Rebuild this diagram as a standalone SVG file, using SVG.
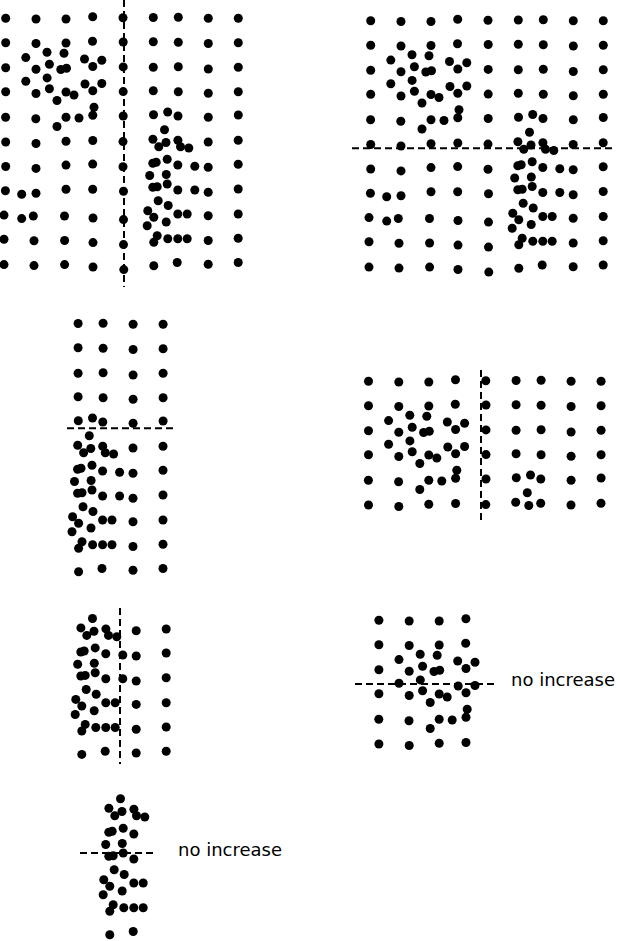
<svg xmlns="http://www.w3.org/2000/svg" xmlns:xlink="http://www.w3.org/1999/xlink" width="620" height="941" viewBox="0 0 620 941">
<style>
circle{fill:#000}
.split{stroke:#000;stroke-width:2;stroke-dasharray:7 4;fill:none}
.lbl{font-family:"DejaVu Sans","Liberation Sans",sans-serif;font-size:18px;fill:#000}
</style>
<defs>
<g id="P1">
<circle cx="5.7" cy="18.3" r="4.5"/><circle cx="36" cy="19" r="4.5"/><circle cx="66" cy="19" r="4.5"/><circle cx="92.7" cy="16.7" r="4.5"/>
<circle cx="5.7" cy="42.7" r="4.5"/><circle cx="36" cy="43.5" r="4.5"/><circle cx="66" cy="43" r="4.5"/><circle cx="92.5" cy="41.2" r="4.5"/>
<circle cx="5.7" cy="67.7" r="4.5"/><circle cx="36" cy="69.3" r="4.5"/><circle cx="66.5" cy="68.3" r="4.5"/><circle cx="92.8" cy="66.5" r="4.5"/>
<circle cx="5.7" cy="91.7" r="4.5"/><circle cx="36" cy="93.5" r="4.5"/><circle cx="66" cy="92" r="4.5"/><circle cx="92.8" cy="90.7" r="4.5"/>
<circle cx="5.6" cy="117.3" r="4.5"/><circle cx="35.8" cy="118.8" r="4.5"/><circle cx="66" cy="117.2" r="4.5"/><circle cx="92.8" cy="115.2" r="4.5"/>
<circle cx="5.7" cy="142" r="4.5"/><circle cx="36" cy="143.5" r="4.5"/><circle cx="66" cy="141.3" r="4.5"/><circle cx="92.8" cy="140.5" r="4.5"/>
<circle cx="47" cy="52.2" r="4.5"/><circle cx="64" cy="53.2" r="4.5"/><circle cx="25.8" cy="57.6" r="4.5"/><circle cx="84.5" cy="59" r="4.5"/>
<circle cx="101.8" cy="60.2" r="4.5"/><circle cx="49.4" cy="64.2" r="4.5"/><circle cx="60.8" cy="69.5" r="4.5"/><circle cx="47.1" cy="77.9" r="4.5"/>
<circle cx="25.8" cy="81.2" r="4.5"/><circle cx="85" cy="84" r="4.5"/><circle cx="101.8" cy="83.5" r="4.5"/><circle cx="49.4" cy="88.8" r="4.5"/>
<circle cx="74" cy="95" r="4.5"/><circle cx="57" cy="100.5" r="4.5"/><circle cx="94" cy="107.3" r="4.5"/><circle cx="79" cy="118" r="4.5"/>
<circle cx="57" cy="126.5" r="4.5"/>
</g>
<g id="P2">
<circle cx="5.7" cy="166.5" r="4.5"/><circle cx="36" cy="168.4" r="4.5"/><circle cx="66" cy="165.1" r="4.5"/><circle cx="92.7" cy="164.1" r="4.5"/>
<circle cx="5.4" cy="190.8" r="4.5"/><circle cx="21.7" cy="194.3" r="4.5"/><circle cx="36" cy="193.3" r="4.5"/><circle cx="66" cy="189.3" r="4.5"/><circle cx="92.7" cy="189.3" r="4.5"/>
<circle cx="4" cy="215.1" r="4.5"/><circle cx="21.7" cy="218.6" r="4.5"/><circle cx="33.3" cy="216" r="4.5"/><circle cx="64.5" cy="216" r="4.5"/><circle cx="93" cy="218" r="4.5"/>
<circle cx="4" cy="239.3" r="4.5"/><circle cx="34" cy="240.7" r="4.5"/><circle cx="64.6" cy="240.5" r="4.5"/><circle cx="93" cy="242.6" r="4.5"/>
<circle cx="4" cy="264.6" r="4.5"/><circle cx="34" cy="265.6" r="4.5"/><circle cx="64.6" cy="264.6" r="4.5"/><circle cx="93" cy="267" r="4.5"/>
</g>
<g id="P3">
<circle cx="123" cy="17.8" r="4.5"/><circle cx="123.2" cy="42" r="4.5"/><circle cx="123.2" cy="66.9" r="4.5"/><circle cx="123.2" cy="91.6" r="4.5"/><circle cx="123.2" cy="116" r="4.5"/><circle cx="123" cy="141.6" r="4.5"/>
</g>
<g id="P4">
<circle cx="123" cy="166.8" r="4.5"/><circle cx="123.5" cy="191.2" r="4.5"/><circle cx="123.5" cy="219.6" r="4.5"/><circle cx="123.5" cy="244.6" r="4.5"/><circle cx="123.8" cy="269.6" r="4.5"/>
</g>
<g id="P5">
<circle cx="153.3" cy="17.5" r="4.5"/><circle cx="178.3" cy="17.3" r="4.5"/><circle cx="208.3" cy="18.3" r="4.5"/><circle cx="238.3" cy="18.3" r="4.5"/>
<circle cx="153.3" cy="41.8" r="4.5"/><circle cx="178.3" cy="42.3" r="4.5"/><circle cx="208.3" cy="43.5" r="4.5"/><circle cx="238.3" cy="42.8" r="4.5"/>
<circle cx="153.3" cy="67.3" r="4.5"/><circle cx="178.3" cy="66.7" r="4.5"/><circle cx="208.3" cy="69" r="4.5"/><circle cx="238.3" cy="67.3" r="4.5"/>
<circle cx="153.3" cy="90.7" r="4.5"/><circle cx="178.3" cy="91.7" r="4.5"/><circle cx="208.3" cy="93.3" r="4.5"/><circle cx="238.3" cy="91.7" r="4.5"/>
<circle cx="153.5" cy="114.8" r="4.5"/><circle cx="178" cy="116" r="4.5"/><circle cx="208.3" cy="117.2" r="4.5"/><circle cx="238.3" cy="115" r="4.5"/>
<circle cx="167.7" cy="112" r="4.5"/>
</g>
<g id="P6a">
<circle cx="164.5" cy="129.8" r="4.5"/><circle cx="152.9" cy="139.2" r="4.5"/><circle cx="166" cy="142.5" r="4.5"/><circle cx="177.9" cy="140.2" r="4.5"/>
</g>
<g id="P6b">
<circle cx="208.2" cy="142" r="4.5"/><circle cx="238.2" cy="140.3" r="4.5"/>
</g>
<g id="P7a">
<circle cx="158.8" cy="146.7" r="4.5"/><circle cx="180.5" cy="146.7" r="4.5"/><circle cx="188.8" cy="148" r="4.5"/>
<circle cx="152.8" cy="163.3" r="4.5"/><circle cx="156.2" cy="162.3" r="4.5"/><circle cx="167.2" cy="159.2" r="4.5"/><circle cx="177.8" cy="165" r="4.5"/>
<circle cx="149.7" cy="175.5" r="4.5"/><circle cx="166.3" cy="174.5" r="4.5"/>
<circle cx="152.8" cy="187.3" r="4.5"/><circle cx="157.2" cy="186.7" r="4.5"/><circle cx="167.2" cy="184" r="4.5"/><circle cx="177.8" cy="190" r="4.5"/>
<circle cx="158.2" cy="200.8" r="4.5"/><circle cx="168.2" cy="205.5" r="4.5"/>
<circle cx="147.8" cy="210.7" r="4.5"/><circle cx="153.8" cy="217.3" r="4.5"/><circle cx="177.8" cy="214" r="4.5"/><circle cx="187.2" cy="214" r="4.5"/>
<circle cx="147.2" cy="225.8" r="4.5"/><circle cx="166.2" cy="222" r="4.5"/>
<circle cx="157.2" cy="235.7" r="4.5"/><circle cx="153.8" cy="242.3" r="4.5"/><circle cx="167.8" cy="238.8" r="4.5"/><circle cx="177.8" cy="238.8" r="4.5"/><circle cx="187.2" cy="238.8" r="4.5"/>
<circle cx="153.8" cy="265.7" r="4.5"/><circle cx="177.2" cy="262.5" r="4.5"/>
</g>
<g id="P7b">
<circle cx="194.8" cy="166.3" r="4.5"/><circle cx="208.2" cy="167.3" r="4.5"/><circle cx="238.2" cy="164.3" r="4.5"/>
<circle cx="194.8" cy="190" r="4.5"/><circle cx="208.2" cy="192.3" r="4.5"/><circle cx="238.2" cy="189" r="4.5"/>
<circle cx="208.2" cy="215.7" r="4.5"/><circle cx="238.2" cy="214" r="4.5"/>
<circle cx="208.2" cy="240.5" r="4.5"/><circle cx="238.2" cy="238.3" r="4.5"/>
<circle cx="208.2" cy="264.3" r="4.5"/><circle cx="238.2" cy="262.5" r="4.5"/>
</g>
<g id="ALL">
<use href="#P1"/><use href="#P2"/><use href="#P3"/><use href="#P4"/><use href="#P5"/><use href="#P6a"/><use href="#P6b"/><use href="#P7a"/><use href="#P7b"/>
</g>
</defs>

<g id="panel-top-left">
<use href="#ALL"/>
</g>
<g id="panel-top-right" transform="translate(365,2.5)">
<use href="#ALL"/>
</g>
<g id="panel-mid-left" transform="translate(-75.2,306)">
<use href="#P5"/><use href="#P6a"/><use href="#P6b"/><use href="#P7a"/><use href="#P7b"/>
</g>
<g id="panel-mid-right" transform="translate(362.8,363)">
<use href="#P1"/><use href="#P3"/><use href="#P5"/><use href="#P6a"/><use href="#P6b"/>
</g>
<g id="panel-low-left" transform="translate(-72,488.7)">
<use href="#P6a"/><use href="#P6b"/><use href="#P7a"/><use href="#P7b"/>
</g>
<g id="panel-low-right" transform="translate(373.2,602)">
<use href="#P1"/>
</g>
<g id="panel-bottom" transform="translate(-44,669)">
<use href="#P6a"/><use href="#P7a"/>
</g>

<g id="splits">
<line class="split" x1="124" y1="0" x2="124" y2="287"/>
<line class="split" x1="352" y1="148.3" x2="614" y2="148.3"/>
<line class="split" x1="67" y1="428.3" x2="176" y2="428.3"/>
<line class="split" x1="481" y1="370" x2="481" y2="522"/>
<line class="split" x1="120" y1="608" x2="120" y2="764"/>
<line class="split" x1="355" y1="684" x2="496" y2="684"/>
<line class="split" x1="80" y1="853" x2="155" y2="853"/>
</g>

<g id="labels">
<text class="lbl" x="511" y="685.5">no increase</text>
<text class="lbl" x="178" y="855.5">no increase</text>
</g>
</svg>
